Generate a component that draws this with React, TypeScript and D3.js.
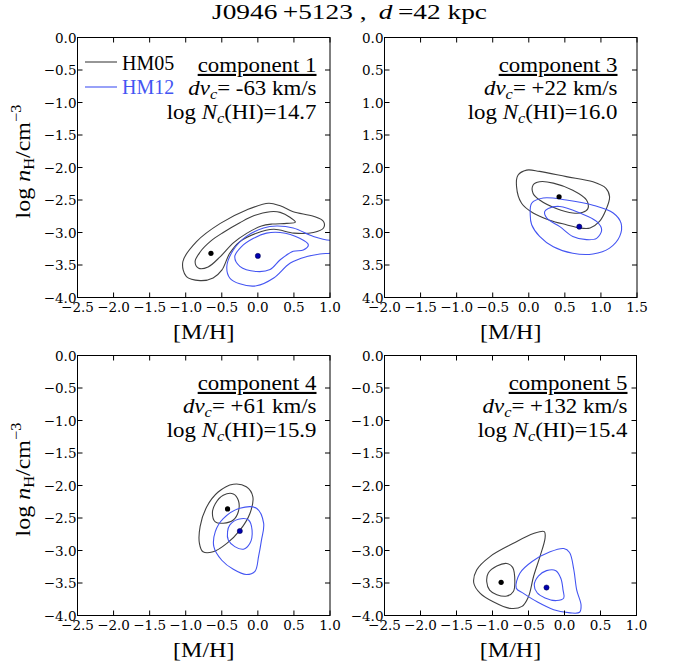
import React from 'react';
import * as d3 from 'd3';

type Pt = [number, number];

// ---------- DATA ----------
const titleMain = 'J0946\u2009+5123 ,\u2009 ';
const titleD = 'd';
const titleRest = '\u2009=42 kpc';

const componentNames = ['component 1', 'component 3', 'component 4', 'component 5'];
const dvValues = ['-63', '+22', '+61', '+132'];
const nhiValues = ['14.7', '16.0', '15.9', '15.4'];

const seriesNames = ['HM05', 'HM12'];

const xTicksA = [-2.5, -2.0, -1.5, -1.0, -0.5, 0.0, 0.5, 1.0];
const xTickLabelsA = ['\u22122.5', '\u22122.0', '\u22121.5', '\u22121.0', '\u22120.5', '0.0', '0.5', '1.0'];
const xTicksB = [-2.0, -1.5, -1.0, -0.5, 0.0, 0.5, 1.0, 1.5];
const xTickLabelsB = ['\u22122.0', '\u22121.5', '\u22121.0', '\u22120.5', '0.0', '0.5', '1.0', '1.5'];

const yTicksNeg = [0.0, -0.5, -1.0, -1.5, -2.0, -2.5, -3.0, -3.5, -4.0];
const yTickLabelsNeg = ['0.0', '\u22120.5', '\u22121.0', '\u22121.5', '\u22122.0', '\u22122.5', '\u22123.0', '\u22123.5', '\u22124.0'];
const yTicksPos = [0.0, 0.5, 1.0, 1.5, 2.0, 2.5, 3.0, 3.5, 4.0];
const yTickLabelsPos = ['0.0', '0.5', '1.0', '1.5', '2.0', '2.5', '3.0', '3.5', '4.0'];

// component 1
const c1Hm05Outer: Pt[] = [[-1.04, -3.45], [-0.85, -3.14], [-0.52, -2.86], [-0.15, -2.65], [0.15, -2.55], [0.31, -2.59], [0.49, -2.68], [0.77, -2.75], [0.91, -2.83], [0.91, -2.93], [0.77, -3.0], [0.5, -3.01], [0.22, -2.95], [-0.02, -3.01], [-0.25, -3.14], [-0.39, -3.32], [-0.5, -3.58], [-0.62, -3.7], [-0.8, -3.74], [-0.99, -3.68]];
const c1Hm05Inner: Pt[] = [[-0.87, -3.45], [-0.8, -3.3], [-0.65, -3.13], [-0.48, -3.0], [-0.25, -2.85], [-0.05, -2.74], [0.17, -2.68], [0.31, -2.69], [0.45, -2.77], [0.52, -2.84], [0.4, -2.86], [0.2, -2.87], [0.05, -2.9], [-0.15, -3.01], [-0.34, -3.16], [-0.52, -3.37], [-0.69, -3.53], [-0.82, -3.55]];
const c1Hm12Outer: Pt[] = [[1.15, -3.1], [1.0, -3.12], [0.77, -3.06], [0.49, -2.93], [0.26, -2.9], [0.08, -2.93], [-0.16, -3.06], [-0.34, -3.27], [-0.43, -3.52], [-0.39, -3.7], [-0.25, -3.79], [-0.02, -3.82], [0.22, -3.7], [0.45, -3.47], [0.68, -3.37], [0.86, -3.33], [1.0, -3.32], [1.15, -3.3]];
const c1Hm12Inner: Pt[] = [[0.12, -3.01], [0.31, -3.0], [0.58, -3.09], [0.7, -3.19], [0.63, -3.27], [0.49, -3.29], [0.31, -3.42], [0.17, -3.57], [-0.02, -3.6], [-0.25, -3.52], [-0.32, -3.37], [-0.23, -3.22], [-0.06, -3.09]];

// component 3
const c3Hm05Outer: Pt[] = [[-0.17, 2.29], [-0.15, 2.12], [-0.03, 2.04], [0.15, 2.06], [0.52, 2.14], [0.89, 2.22], [1.07, 2.32], [1.12, 2.45], [1.07, 2.65], [0.98, 2.83], [0.85, 2.93], [0.71, 2.93], [0.52, 2.88], [0.29, 2.81], [0.06, 2.7], [-0.1, 2.55]];
const c3Hm05Inner: Pt[] = [[0.06, 2.27], [0.15, 2.22], [0.34, 2.24], [0.61, 2.35], [0.8, 2.5], [0.82, 2.63], [0.75, 2.69], [0.61, 2.7], [0.38, 2.63], [0.15, 2.5], [0.06, 2.4]];
const c3Hm12Outer: Pt[] = [[0.04, 2.55], [0.2, 2.47], [0.52, 2.5], [0.89, 2.58], [1.17, 2.7], [1.28, 2.86], [1.26, 3.06], [1.12, 3.24], [0.89, 3.33], [0.61, 3.32], [0.34, 3.22], [0.15, 3.06], [0.04, 2.88], [0.02, 2.73]];
const c3Hm12Inner: Pt[] = [[0.22, 2.68], [0.27, 2.63], [0.43, 2.6], [0.71, 2.7], [0.94, 2.83], [1.01, 2.96], [0.94, 3.09], [0.8, 3.11], [0.61, 3.06], [0.43, 2.91], [0.25, 2.78]];

// component 4
const c4Hm05Outer: Pt[] = [[-0.34, -1.98], [-0.16, -2.02], [-0.07, -2.17], [-0.11, -2.43], [-0.25, -2.69], [-0.43, -2.89], [-0.62, -3.02], [-0.76, -3.02], [-0.81, -2.89], [-0.8, -2.63], [-0.71, -2.33], [-0.55, -2.1]];
const c4Hm05Inner: Pt[] = [[-0.59, -2.28], [-0.48, -2.15], [-0.34, -2.13], [-0.27, -2.23], [-0.27, -2.4], [-0.34, -2.53], [-0.48, -2.58], [-0.59, -2.56], [-0.63, -2.43]];
const c4Hm12Outer: Pt[] = [[-0.25, -2.35], [-0.02, -2.35], [0.08, -2.58], [0.05, -2.84], [0.01, -3.09], [-0.04, -3.32], [-0.16, -3.37], [-0.34, -3.29], [-0.5, -3.15], [-0.61, -2.94], [-0.59, -2.71], [-0.48, -2.51]];
const c4Hm12Inner: Pt[] = [[-0.39, -2.61], [-0.27, -2.52], [-0.13, -2.53], [-0.08, -2.69], [-0.11, -2.89], [-0.2, -2.98], [-0.32, -2.94], [-0.41, -2.84], [-0.42, -2.71]];

// component 5
const c5Hm05Outer: Pt[] = [[-1.22, -3.3], [-1.03, -3.09], [-0.71, -2.89], [-0.43, -2.74], [-0.28, -2.71], [-0.27, -2.81], [-0.34, -3.09], [-0.43, -3.4], [-0.5, -3.71], [-0.59, -3.86], [-0.76, -3.89], [-0.99, -3.79], [-1.17, -3.66], [-1.26, -3.5]];
const c5Hm05Inner: Pt[] = [[-1.06, -3.35], [-0.94, -3.24], [-0.8, -3.2], [-0.72, -3.26], [-0.69, -3.48], [-0.71, -3.63], [-0.8, -3.7], [-0.94, -3.68], [-1.04, -3.61], [-1.08, -3.48]];
const c5Hm12Outer: Pt[] = [[-0.67, -3.58], [-0.62, -3.35], [-0.45, -3.17], [-0.2, -3.02], [-0.01, -2.97], [0.07, -3.03], [0.13, -3.3], [0.17, -3.61], [0.23, -3.84], [0.21, -3.95], [0.08, -3.96], [-0.15, -3.91], [-0.38, -3.79], [-0.57, -3.66]];
const c5Hm12Inner: Pt[] = [[-0.42, -3.53], [-0.36, -3.39], [-0.25, -3.31], [-0.12, -3.31], [-0.05, -3.43], [-0.02, -3.61], [-0.01, -3.73], [-0.11, -3.77], [-0.27, -3.73], [-0.38, -3.65]];

const bestHm05: Pt[] = [[-0.65, -3.32], [0.42, 2.45], [-0.42, -2.36], [-0.88, -3.49]];
const bestHm12: Pt[] = [[0.0, -3.36], [0.7, 2.91], [-0.25, -2.7], [-0.25, -3.57]];

const hm05Contours: Pt[][][] = [[c1Hm05Outer, c1Hm05Inner], [c3Hm05Outer, c3Hm05Inner], [c4Hm05Outer, c4Hm05Inner], [c5Hm05Outer, c5Hm05Inner]];
const hm12Contours: Pt[][][] = [[c1Hm12Outer, c1Hm12Inner], [c3Hm12Outer, c3Hm12Inner], [c4Hm12Outer, c4Hm12Inner], [c5Hm12Outer, c5Hm12Inner]];

const xDomains: [number, number][] = [[-2.5, 1.0], [-2.0, 1.5], [-2.5, 1.0], [-2.5, 1.0]];
const yDomains: [number, number][] = [[-4, 0], [4, 0], [-4, 0], [-4, 0]]; // [bottom, top]

// ---------- LAYOUT ----------
const W = 675;
const H = 668;
const panelBoxes = [
  { left: 77.5, top: 37.5, w: 252.5, h: 260 },
  { left: 384.5, top: 37.5, w: 252.5, h: 260 },
  { left: 77.5, top: 355.5, w: 252.5, h: 260 },
  { left: 384.5, top: 355.5, w: 252, h: 260 },
];
const annotRight = [316.5, 617.5, 316.5, 627.5];
const HM05_COLOR = '#404040';
const HM12_COLOR = '#4455f2';
const SERIF = '"Liberation Serif", "Times New Roman", serif';
const TICKFONT = '"DejaVu Serif", serif';
const STRETCH = 1.09;

function Panel({ i }: { i: number }) {
  const b = panelBoxes[i];
  const x = d3.scaleLinear().domain(xDomains[i]).range([b.left, b.left + b.w]);
  const y = d3.scaleLinear().domain(yDomains[i]).range([b.top + b.h, b.top]);
  const line = d3
    .line<Pt>()
    .x((d) => x(d[0]))
    .y((d) => y(d[1]))
    .curve(d3.curveCatmullRomClosed.alpha(0.5));
  const xt = i === 1 ? xTicksB : xTicksA;
  const xtl = i === 1 ? xTickLabelsB : xTickLabelsA;
  const yt = i === 1 ? yTicksPos : yTicksNeg;
  const ytl = i === 1 ? yTickLabelsPos : yTickLabelsNeg;
  const tl = 5;
  const clipId = `clip${i}`;
  const ar = annotRight[i];
  const base = b.top + 34.5;
  return (
    <g>
      <defs>
        <clipPath id={clipId}>
          <rect x={b.left} y={b.top} width={b.w} height={b.h} />
        </clipPath>
      </defs>
      <g clipPath={`url(#${clipId})`}>
        {hm05Contours[i].map((c, k) => (
          <path key={'a' + k} d={line(c) || ''} fill="none" stroke={HM05_COLOR} strokeWidth={1.1} />
        ))}
        {hm12Contours[i].map((c, k) => (
          <path key={'b' + k} d={line(c) || ''} fill="none" stroke={HM12_COLOR} strokeWidth={1.1} />
        ))}
        <circle cx={x(bestHm05[i][0])} cy={y(bestHm05[i][1])} r={2.6} fill="#000" />
        <circle cx={x(bestHm12[i][0])} cy={y(bestHm12[i][1])} r={2.6} fill="#0000b0" stroke="#000040" strokeWidth={0.5} />
      </g>
      <rect x={b.left} y={b.top} width={b.w} height={b.h} fill="none" stroke="#000" strokeWidth={1} />
      {xt.map((v, k) => (
        <g key={'xt' + k}>
          <line x1={x(v)} x2={x(v)} y1={b.top + b.h} y2={b.top + b.h - tl} stroke="#000" />
          <line x1={x(v)} x2={x(v)} y1={b.top} y2={b.top + tl} stroke="#000" />
          <text x={x(v)} y={b.top + b.h + 14.5} textAnchor="middle" fontFamily={TICKFONT} fontSize={13.5}>
            {xtl[k]}
          </text>
        </g>
      ))}
      {yt.map((v, k) => (
        <g key={'yt' + k}>
          <line x1={b.left} x2={b.left + tl} y1={y(v)} y2={y(v)} stroke="#000" />
          <line x1={b.left + b.w} x2={b.left + b.w - tl} y1={y(v)} y2={y(v)} stroke="#000" />
          <text x={b.left - 1} y={y(v) + 5} textAnchor="end" fontFamily={TICKFONT} fontSize={13.5}>
            {ytl[k]}
          </text>
        </g>
      ))}
      <text
        transform={`translate(${b.left + b.w / 2},${b.top + b.h + 41}) scale(${STRETCH},1)`}
        textAnchor="middle"
        fontFamily={SERIF}
        fontSize={22}
      >
        [M/H]
      </text>
      {(i === 0 || i === 2) && (
        <text
          transform={`translate(30,${b.top + b.h / 2 - 6}) rotate(-90) scale(${STRETCH},1)`}
          textAnchor="middle"
          fontFamily={SERIF}
          fontSize={22}
        >
          log <tspan fontStyle="italic">n</tspan>
          <tspan fontSize={15} dy={4}>H</tspan>
          <tspan dy={-4}>/cm</tspan>
          <tspan fontSize={15} dy={-9}>{'\u22123'}</tspan>
        </text>
      )}
      <g transform={`translate(${ar},0) scale(${STRETCH},1)`}>
        <text x={0} y={base} textAnchor="end" fontFamily={SERIF} fontSize={21} textDecoration="underline">
          {componentNames[i]}
        </text>
        <text x={0} y={base + 23} textAnchor="end" fontFamily={SERIF} fontSize={21}>
          <tspan fontStyle="italic">dv</tspan>
          <tspan fontStyle="italic" fontSize={15} dy={4}>c</tspan>
          <tspan dy={-4}>{'= ' + dvValues[i] + ' km/s'}</tspan>
        </text>
        <text x={0} y={base + 47} textAnchor="end" fontFamily={SERIF} fontSize={21}>
          {'log '}
          <tspan fontStyle="italic">N</tspan>
          <tspan fontStyle="italic" fontSize={15} dy={4}>c</tspan>
          <tspan dy={-4}>{'(HI)=' + nhiValues[i]}</tspan>
        </text>
      </g>
      {i === 0 && (
        <g>
          <line x1={85} x2={117} y1={62} y2={62} stroke={HM05_COLOR} strokeWidth={1.1} />
          <text x={122} y={69.5} fontFamily={SERIF} fontSize={20} fill="#000">
            {seriesNames[0]}
          </text>
          <line x1={85} x2={117} y1={87} y2={87} stroke={HM12_COLOR} strokeWidth={1.1} />
          <text x={122} y={94} fontFamily={SERIF} fontSize={20} fill={HM12_COLOR}>
            {seriesNames[1]}
          </text>
        </g>
      )}
    </g>
  );
}

export default function App() {
  return (
    <svg
      width={W}
      height={H}
      viewBox={`0 0 ${W} ${H}`}
      style={{ position: 'absolute', left: 0, top: 0, background: '#fff' }}
    >
      <rect x={0} y={0} width={W} height={H} fill="#fff" />
      <text
        x={349.5}
        y={19}
        textAnchor="middle"
        fontFamily={SERIF}
        fontSize={21.5}
        textLength={275}
        lengthAdjust="spacingAndGlyphs"
      >
        {titleMain}
        <tspan fontStyle="italic">{titleD}</tspan>
        {titleRest}
      </text>
      {[0, 1, 2, 3].map((i) => (
        <Panel key={i} i={i} />
      ))}
    </svg>
  );
}
